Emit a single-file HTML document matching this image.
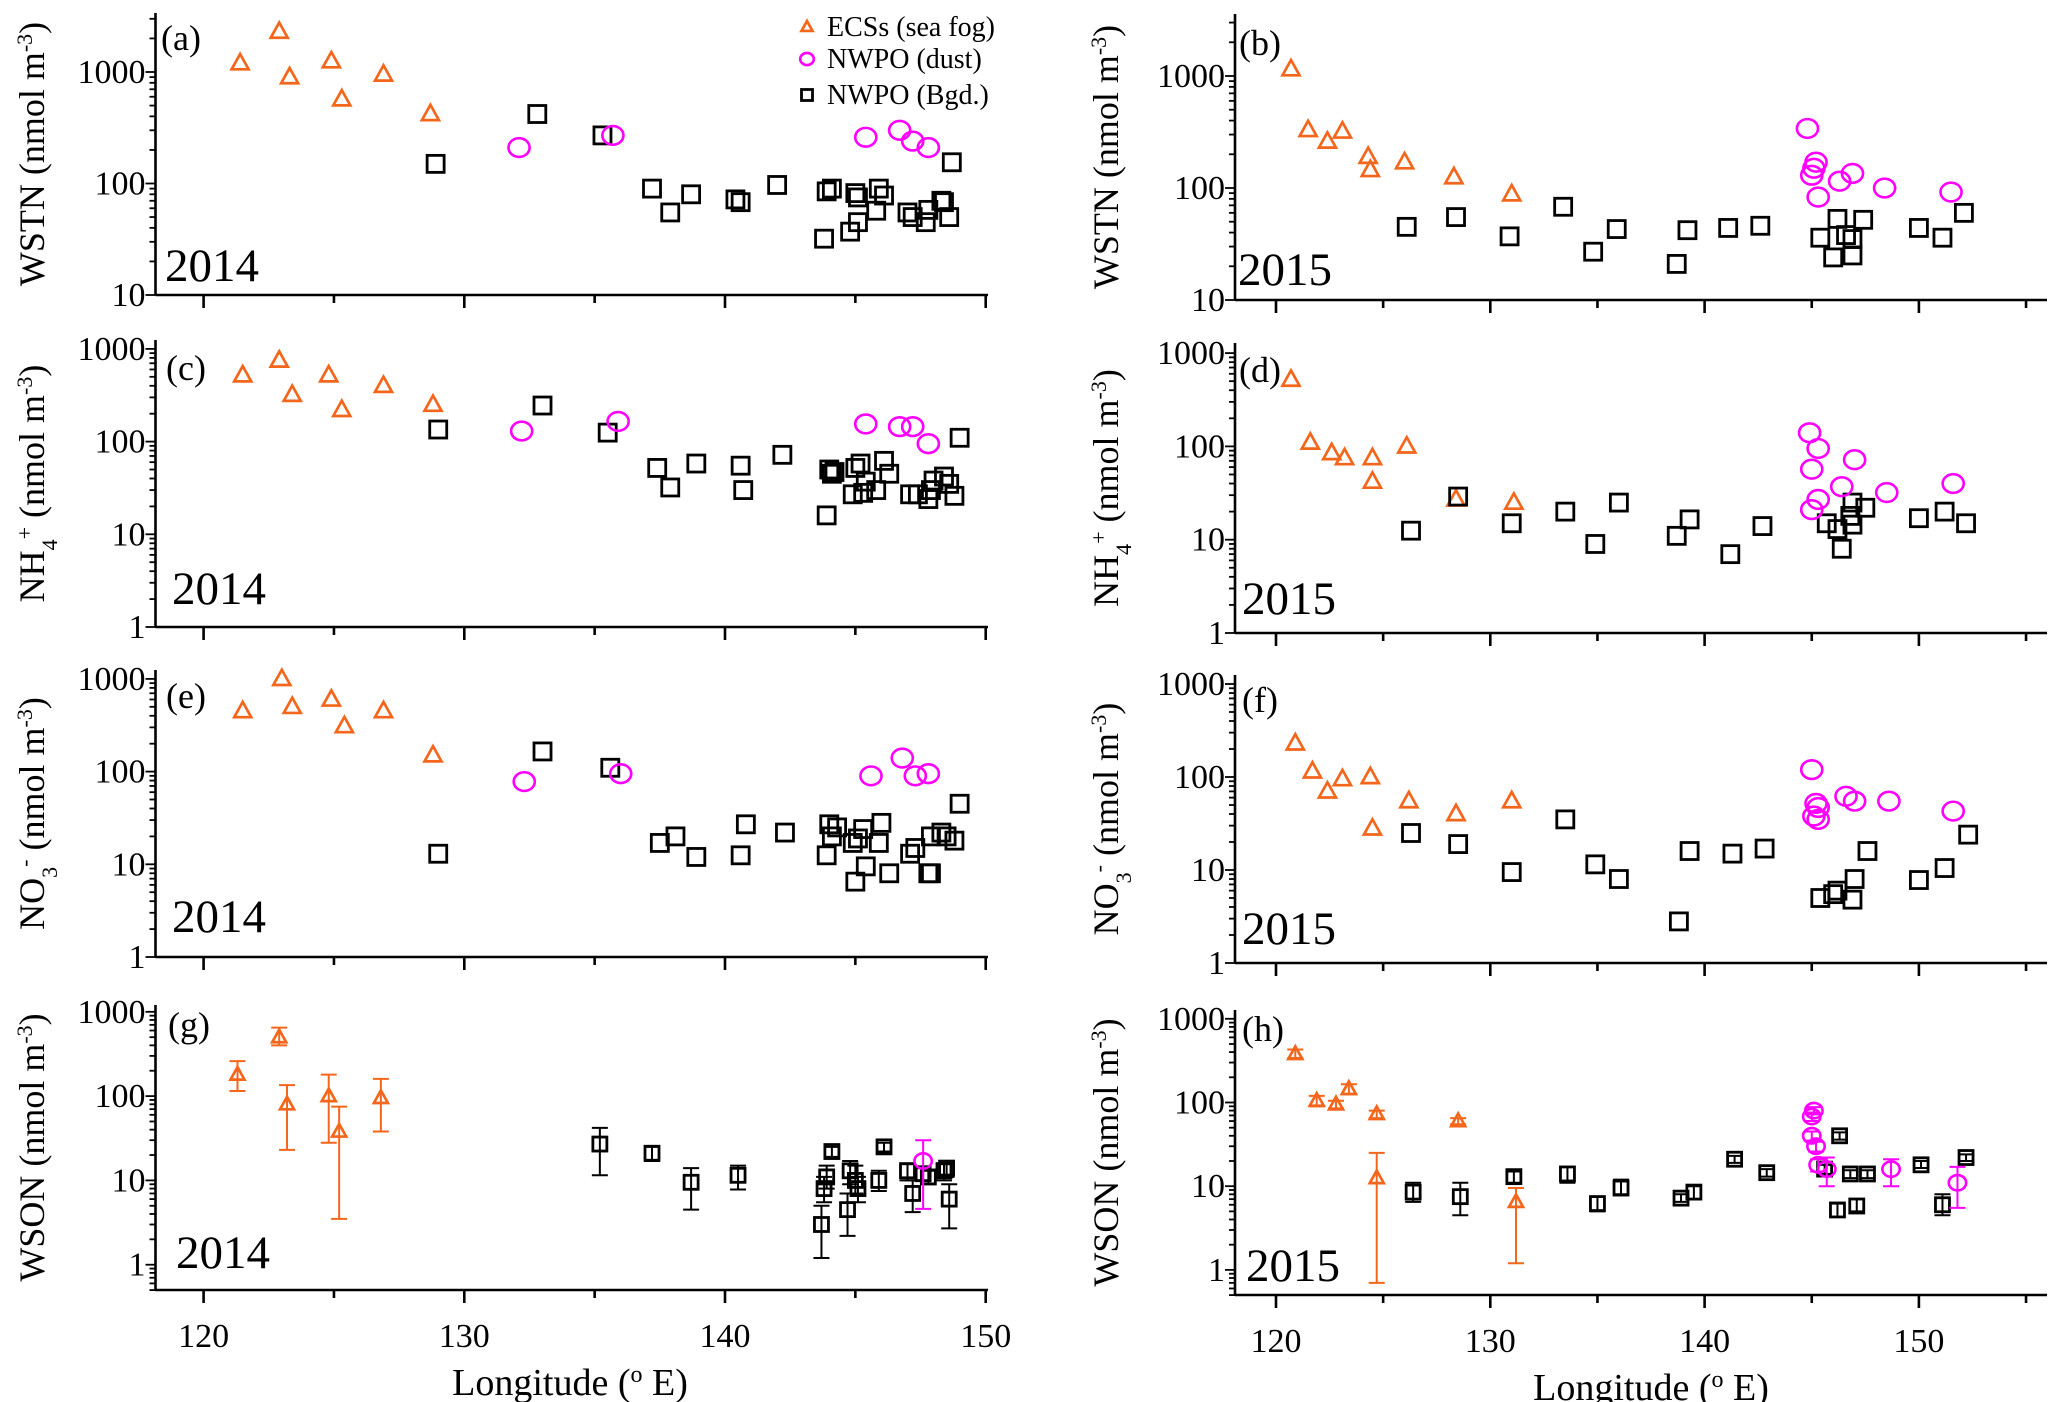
<!DOCTYPE html>
<html><head><meta charset="utf-8"><style>
html,body{margin:0;padding:0;background:#fff;}
svg{display:block;font-family:"Liberation Serif",serif;}
</style></head><body>
<svg id="chart" width="2067" height="1402" viewBox="0 0 2067 1402" xmlns="http://www.w3.org/2000/svg"></svg>
<script>
// ---------- DATA ----------
const wstn2014Ecs=[[121.4,1200],[122.9,2300],[123.3,900],[124.9,1250],[125.3,570],[126.9,950],[128.7,420]];
const wstn2014Dust=[[132.1,210],[135.7,270],[145.4,260],[146.7,300],[147.2,240],[147.8,210]];
const wstn2014Bgd=[[128.9,150],[132.8,420],[135.3,270],[137.2,90],[137.9,55],[138.7,80],[140.4,72],[140.6,68],[142.0,97],[143.8,32],[143.9,85],[144.1,90],[144.8,37],[145.0,82],[145.1,75],[145.1,45],[145.8,57],[145.9,90],[146.1,78],[147.0,55],[147.2,50],[147.7,45],[147.8,58],[148.3,70],[148.4,68],[148.6,50],[148.7,155]];

const nh42014Ecs=[[121.5,520],[122.9,750],[123.4,320],[124.8,520],[125.3,220],[126.9,400],[128.8,250]];
const nh42014Dust=[[132.2,130],[135.9,165],[145.4,155],[146.7,145],[147.2,145],[147.8,95]];
const nh42014Bgd=[[129.0,135],[133.0,245],[135.5,125],[137.4,52],[137.9,32],[138.9,58],[140.6,55],[140.7,30],[142.2,72],[143.9,16],[144.0,50],[144.2,47],[144.1,45],[144.9,27],[145.0,52],[145.2,58],[145.3,28],[145.4,37],[145.8,30],[146.1,62],[146.3,45],[147.1,27],[147.4,27],[147.8,24],[147.9,30],[148.0,38],[148.4,42],[148.6,35],[148.8,26],[149.0,110]];

const no32014Ecs=[[121.5,450],[123.0,1000],[123.4,500],[124.9,600],[125.4,310],[126.9,450],[128.8,150]];
const no32014Dust=[[132.3,78],[136.0,95],[145.6,90],[146.8,140],[147.3,90],[147.8,95]];
const no32014Bgd=[[129.0,13],[133.0,165],[135.6,110],[137.5,17],[138.1,20],[138.9,12],[140.6,12.5],[140.8,27],[142.3,22],[143.9,12.5],[144.0,27],[144.1,20],[144.3,25],[144.9,17],[145.0,6.5],[145.1,19],[145.3,24],[145.4,9.5],[145.9,17],[146.0,28],[146.3,8],[147.1,13],[147.3,15],[147.8,8],[147.9,8],[147.9,20],[148.3,22],[148.5,20],[148.8,18],[149.0,45]];

const wson2014Ecs=[[121.3,180,115,260],[122.9,500,400,650],[123.2,80,23,135],[124.8,100,28,180],[125.2,38,3.5,75],[126.8,95,38,160]];
const wson2014Dust=[[147.6,17,4.6,30]];
const wson2014Bgd=[[135.2,27,11.5,42],[137.2,21,17,25],[138.7,9.5,4.5,14],[140.5,11.5,7.8,15],[143.7,3,1.2,5],[143.8,8,5.5,11],[143.9,11,8,15],[144.1,22,19,25],[144.7,4.5,2.2,7],[144.8,13,9,17],[145.0,10,7,15],[145.1,8,5.5,11],[145.9,10,7.5,13],[146.1,25,22,28],[147.0,13,10,16],[147.2,7,4.2,10],[147.6,12,10,14],[147.8,11,9,13],[148.4,13,10,16],[148.5,14,11,17],[148.6,6,2.7,9]];

const wstn2015Ecs=[[120.7,1150],[121.5,330],[122.4,260],[123.1,320],[124.3,190],[124.4,145],[126.0,170],[128.3,125],[131.0,88]];
const wstn2015Dust=[[144.8,340],[145.2,170],[145.1,150],[145.0,130],[146.3,115],[145.3,83],[146.9,135],[148.4,100],[151.5,92]];
const wstn2015Bgd=[[126.1,45],[128.4,55],[130.9,37],[133.4,68],[134.8,27],[135.9,43],[138.7,21],[139.2,42],[141.1,44],[142.6,46],[145.4,36],[146.0,24],[146.2,53],[146.6,38],[146.9,35],[146.9,25],[147.4,52],[150.0,44],[151.1,36],[152.1,60]];

const nh42015Ecs=[[120.7,520],[121.6,110],[122.6,85],[123.2,75],[124.5,75],[124.5,42],[126.1,100],[128.4,27],[131.1,25]];
const nh42015Dust=[[144.9,140],[145.3,95],[145.0,57],[146.4,37],[145.3,27],[145.0,21],[147.0,72],[148.5,32],[151.6,40]];
const nh42015Bgd=[[126.3,12.5],[128.5,29],[131.0,15],[133.5,20],[134.9,9],[136.0,25],[138.7,11],[139.3,16.5],[141.2,7],[142.7,14],[145.7,15],[146.2,13],[146.4,8],[146.8,18],[146.9,25],[146.9,14.5],[147.5,22],[150.0,17],[151.2,20],[152.2,15]];

const no32015Ecs=[[120.9,230],[121.7,115],[122.4,70],[123.1,95],[124.4,100],[124.5,28],[126.2,55],[128.4,40],[131.0,55]];
const no32015Dust=[[145.0,120],[145.2,52],[145.3,47],[145.1,38],[145.3,35],[146.6,62],[147.0,55],[148.6,55],[151.6,43]];
const no32015Bgd=[[126.3,25],[128.5,19],[131.0,9.5],[133.5,35],[134.9,11.5],[136.0,8],[138.8,2.8],[139.3,16],[141.3,15],[142.8,17],[145.4,5],[146.0,5.5],[146.2,6],[147.0,8],[146.9,4.8],[147.6,16],[150.0,7.8],[151.2,10.5],[152.3,24]];

const wson2015Ecs=[[120.9,380,340,430],[121.9,105,90,120],[122.8,95,85,105],[123.4,145,125,165],[124.7,73,65,80],[124.7,12.5,0.7,25],[128.5,60,55,65],[131.2,6.5,1.2,9.5]];
const wson2015Dust=[[145.1,80,72,88],[145.0,68,60,76],[145.0,40,35,45],[145.2,30,26,34],[145.3,18,15,21],[145.7,16,10,22],[148.7,16,10,21],[151.8,11,5.5,17]];
const wson2015Bgd=[[126.4,8.5,6.5,11],[128.6,7.5,4.5,11],[131.1,13,11,15],[133.6,14,11,17],[135.0,6.2,5,7.5],[136.1,9.5,8,12],[138.9,7.2,6.5,8],[139.5,8.5,7,10],[141.4,21,19,23],[142.9,14.5,13,16],[145.6,16,14,18],[146.3,40,36,44],[146.2,5.2,4.3,6.2],[146.8,14,12.5,15.5],[147.1,5.8,5,7],[147.6,14,12.5,15.5],[150.1,18,16.5,20],[151.1,6,4.5,8],[152.2,22,20,24]];

const xTickLabels=[120,130,140,150];
const yDecadeLabels=["1","10","100","1000"];

// ---------- LAYOUT ----------
const NS="http://www.w3.org/2000/svg";
const svg=document.getElementById('chart');
const ORANGE="#F4661B", MAG="#FF00FF";
const colL={x0:155.5,ref:203.6,scale:26.07,lonMax:150,xEnd:988,titleX:570};
const colR={x0:1235,ref:1276,scale:21.43,lonMax:155,xEnd:2047,titleX:1651};
function el(tag,attrs,parent){const e=document.createElementNS(NS,tag);for(const k in attrs)e.setAttribute(k,attrs[k]);(parent||svg).appendChild(e);return e;}

const panels=[
 {id:'a',col:colL,top:13,bottom:295,logmin:1,dec:111.5,title:'WSTN',year:'2014',yr:[165,281],lt:[161,50],ecs:wstn2014Ecs,dust:wstn2014Dust,bgd:wstn2014Bgd,err:false,ms:17},
 {id:'c',col:colL,top:340,bottom:627,logmin:0,dec:92.7,title:'NH4',year:'2014',yr:[172,604],lt:[166,380],ecs:nh42014Ecs,dust:nh42014Dust,bgd:nh42014Bgd,err:false,ms:17},
 {id:'e',col:colL,top:670,bottom:957,logmin:0,dec:92.7,title:'NO3',year:'2014',yr:[172,932],lt:[166,708],ecs:no32014Ecs,dust:no32014Dust,bgd:no32014Bgd,err:false,ms:17},
 {id:'g',col:colL,top:1005,bottom:1290,logmin:-0.3,dec:84.3,title:'WSON',year:'2014',yr:[176,1268],lt:[168,1037],ecs:wson2014Ecs,dust:wson2014Dust,bgd:wson2014Bgd,err:true,ms:14,xlabels:true},
 {id:'b',col:colR,top:14,bottom:300,logmin:1,dec:112,title:'WSTN',year:'2015',yr:[1238,285],lt:[1239,55],ecs:wstn2015Ecs,dust:wstn2015Dust,bgd:wstn2015Bgd,err:false,ms:17},
 {id:'d',col:colR,top:343,bottom:633,logmin:0,dec:93.3,title:'NH4',year:'2015',yr:[1242,614],lt:[1239,382],ecs:nh42015Ecs,dust:nh42015Dust,bgd:nh42015Bgd,err:false,ms:17},
 {id:'f',col:colR,top:675,bottom:963,logmin:0,dec:93,title:'NO3',year:'2015',yr:[1242,944],lt:[1242,712],ecs:no32015Ecs,dust:no32015Dust,bgd:no32015Bgd,err:false,ms:17},
 {id:'h',col:colR,top:1010,bottom:1295,logmin:-0.3,dec:83.7,title:'WSON',year:'2015',yr:[1246,1281],lt:[1242,1041],ecs:wson2015Ecs,dust:wson2015Dust,bgd:wson2015Bgd,err:true,ms:14,xlabels:true}
];

function tri(g,x,y,s,c){const h=s*0.9;el('polygon',{points:`${x},${y-h*0.6} ${x-s/2},${y+h*0.4} ${x+s/2},${y+h*0.4}`,fill:'none',stroke:c,'stroke-width':2.7},g);}
function sq(g,x,y,s,c){el('rect',{x:x-s/2,y:y-s/2,width:s,height:s,fill:'none',stroke:c,'stroke-width':2.8},g);}
function circ(g,x,y,s,c){el('ellipse',{cx:x,cy:y,rx:s*0.62,ry:s*0.55,fill:'none',stroke:c,'stroke-width':2.6},g);}

panels.forEach(p=>{
  const c=p.col;
  const X=lon=>c.ref+(lon-120)*c.scale;
  const Y=v=>p.bottom-(Math.log10(v)-p.logmin)*p.dec;
  const g=el('g',{});
  
  
  const ax=el('g',{stroke:'#000','stroke-width':2.6},g);
  
  
  el('line',{x1:c.x0,y1:p.bottom,x2:c.xEnd,y2:p.bottom},ax);
  el('line',{x1:c.x0,y1:p.bottom,x2:c.x0,y2:p.top},ax);
  for(let lon=120;lon<=c.lonMax;lon+=5){
    const major=lon%10===0;
    el('line',{x1:X(lon),y1:p.bottom,x2:X(lon),y2:p.bottom+(major?13:8)},ax);
  }
  const yt=el('g',{stroke:'#000','stroke-width':1.8},g);
  for(let d=-1;d<=3;d++){
    for(let m=1;m<=9;m++){
      const v=m*Math.pow(10,d);
      const y=Y(v);
      if(y>p.bottom+0.5||y<p.top-0.5)continue;
      el('line',{x1:c.x0,y1:y,x2:c.x0-(m===1?10:6),y2:y},yt);
      if(m===1&&d>=0){
        const t=el('text',{x:c.x0-10,y:y+11,'text-anchor':'end','font-size':34,fill:'#000'},g);
        
        
        t.textContent=yDecadeLabels[d];
      }
    }
  }
  if(p.xlabels){
    xTickLabels.forEach(v=>{
      const t=el('text',{x:X(v),y:p.bottom+57,'text-anchor':'middle','font-size':34,fill:'#000'},g);
      
      
      t.textContent=v;
    });
    const xl=el('text',{x:c.titleX,y:p.bottom+105,'text-anchor':'middle','font-size':38,fill:'#000'},g);
    
    
    xl.innerHTML='Longitude (<tspan baseline-shift="super" font-size="24">o</tspan> E)';
  }
  const cy=(p.top+p.bottom)/2, tx=c===colL?44:1118;
  const yl=el('text',{x:0,y:0,transform:`translate(${tx},${cy}) rotate(-90)`,'text-anchor':'middle','font-size':36,fill:'#000'},g);
  
  
  const unit=' (nmol m<tspan baseline-shift="super" font-size="22">-3</tspan>)';
  if(p.title==='NH4') yl.innerHTML='NH<tspan baseline-shift="sub" font-size="22">4</tspan><tspan baseline-shift="super" font-size="22">+</tspan>'+unit;
  else if(p.title==='NO3') yl.innerHTML='NO<tspan baseline-shift="sub" font-size="22">3</tspan><tspan baseline-shift="super" font-size="22">-</tspan>'+unit;
  else yl.innerHTML=p.title+unit;
  const lt=el('text',{x:p.lt[0],y:p.lt[1],'font-size':36,fill:'#000'},g);
  
  
  lt.textContent='('+p.id+')';
  const yr=el('text',{x:p.yr[0],y:p.yr[1],'font-size':47,fill:'#000'},g);
  
  
  yr.textContent=p.year;
  const series=[[p.ecs,ORANGE,tri,'ecs'],[p.bgd,'#000',sq,'bgd'],[p.dust,MAG,circ,'dust']];
  series.forEach(([data,col,fn,nm])=>{
    const sg=el('g',{},g);
    
    
    data.forEach(d=>{
      const x=X(d[0]),y=Y(d[1]);
      if(p.err&&d.length>3){
        const eg=el('g',{stroke:col,'stroke-width':2},sg);
        
        
        const y1=Y(d[2]),y2=Y(d[3]);
        el('line',{x1:x,y1:y1,x2:x,y2:y2},eg);
        el('line',{x1:x-8,y1:y1,x2:x+8,y2:y1},eg);
        el('line',{x1:x-8,y1:y2,x2:x+8,y2:y2},eg);
      }
      fn(sg,x,y,p.ms,col);
    });
  });
});

const lg=el('g',{});


const legItems=[['ECSs (sea fog)',ORANGE,tri,27],['NWPO (dust)',MAG,circ,59],['NWPO (Bgd.)','#000',sq,95]];
legItems.forEach(([txt,col,fn,y])=>{
  const eg=el('g',{},lg);
  
  
  fn(eg,807,y,11,col);
  const t=el('text',{x:827,y:y+9,'font-size':28,fill:'#000'},eg);
  t.textContent=txt;
});
</script>
</body></html>
